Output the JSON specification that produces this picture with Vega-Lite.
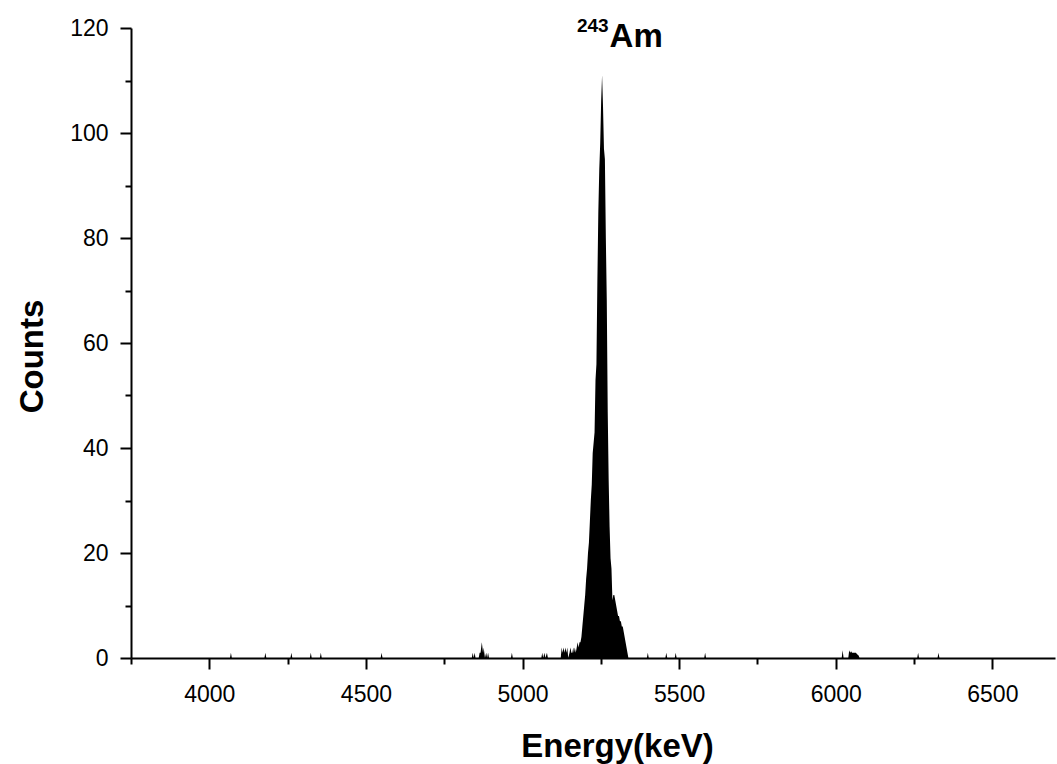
{
  "$schema": "https://vega.github.io/schema/vega-lite/v6.json",
  "width": 924,
  "height": 630,
  "autosize": {"type": "none"},
  "padding": {"left": 131, "top": 28, "right": 2, "bottom": 106},
  "background": "white",
  "config": {
    "view": {"stroke": null},
    "font": "Liberation Sans",
    "axis": {
      "domainColor": "black", "domainWidth": 2, "tickColor": "black", "tickWidth": 2,
      "labelColor": "black", "titleColor": "black", "labelFont": "Liberation Sans",
      "titleFont": "Liberation Sans", "labelFontSize": 23, "titleFontSize": 33,
      "titleFontWeight": "bold", "grid": false, "zindex": 1
    }
  },
  "datasets": {
    "spectrum": [
      {"energy": 3750, "counts": 0},
      {"energy": 4066, "counts": 0}, {"energy": 4069, "counts": 1}, {"energy": 4072, "counts": 0},
      {"energy": 4176, "counts": 0}, {"energy": 4179, "counts": 1}, {"energy": 4182, "counts": 0},
      {"energy": 4259, "counts": 0}, {"energy": 4262, "counts": 1}, {"energy": 4265, "counts": 0},
      {"energy": 4321, "counts": 0}, {"energy": 4324, "counts": 1}, {"energy": 4327, "counts": 0},
      {"energy": 4353, "counts": 0}, {"energy": 4356, "counts": 1}, {"energy": 4359, "counts": 0},
      {"energy": 4547, "counts": 0}, {"energy": 4550, "counts": 1}, {"energy": 4553, "counts": 0},
      {"energy": 4838, "counts": 0}, {"energy": 4841, "counts": 1}, {"energy": 4844, "counts": 0},
      {"energy": 4847, "counts": 1}, {"energy": 4850, "counts": 0}, {"energy": 4860, "counts": 0},
      {"energy": 4863, "counts": 1}, {"energy": 4866, "counts": 1}, {"energy": 4868, "counts": 2},
      {"energy": 4870, "counts": 3}, {"energy": 4872, "counts": 2}, {"energy": 4874, "counts": 1},
      {"energy": 4876, "counts": 2}, {"energy": 4878, "counts": 1}, {"energy": 4880, "counts": 0},
      {"energy": 4884, "counts": 1}, {"energy": 4887, "counts": 0}, {"energy": 4890, "counts": 1},
      {"energy": 4893, "counts": 0},
      {"energy": 4963, "counts": 0}, {"energy": 4966, "counts": 1}, {"energy": 4969, "counts": 0},
      {"energy": 5060, "counts": 0}, {"energy": 5063, "counts": 1}, {"energy": 5066, "counts": 0},
      {"energy": 5070, "counts": 1}, {"energy": 5073, "counts": 0}, {"energy": 5078, "counts": 1},
      {"energy": 5081, "counts": 0},
      {"energy": 5122, "counts": 0}, {"energy": 5125, "counts": 2}, {"energy": 5128, "counts": 1},
      {"energy": 5131, "counts": 2}, {"energy": 5134, "counts": 1}, {"energy": 5137, "counts": 2},
      {"energy": 5140, "counts": 1}, {"energy": 5143, "counts": 2}, {"energy": 5146, "counts": 0},
      {"energy": 5150, "counts": 1}, {"energy": 5153, "counts": 2}, {"energy": 5156, "counts": 1},
      {"energy": 5159, "counts": 1}, {"energy": 5162, "counts": 2},
      {"energy": 5164, "counts": 1}, {"energy": 5167, "counts": 2}, {"energy": 5170, "counts": 1},
      {"energy": 5173, "counts": 2}, {"energy": 5176, "counts": 3}, {"energy": 5179, "counts": 2},
      {"energy": 5182, "counts": 3}, {"energy": 5185, "counts": 3}, {"energy": 5188, "counts": 4},
      {"energy": 5191, "counts": 6}, {"energy": 5194, "counts": 8}, {"energy": 5197, "counts": 10},
      {"energy": 5200, "counts": 12}, {"energy": 5203, "counts": 15}, {"energy": 5206, "counts": 17},
      {"energy": 5209, "counts": 20}, {"energy": 5212, "counts": 22}, {"energy": 5215, "counts": 26},
      {"energy": 5218, "counts": 30}, {"energy": 5221, "counts": 33}, {"energy": 5224, "counts": 39},
      {"energy": 5227, "counts": 41}, {"energy": 5230, "counts": 43}, {"energy": 5233, "counts": 53},
      {"energy": 5236, "counts": 56}, {"energy": 5239, "counts": 72}, {"energy": 5242, "counts": 85},
      {"energy": 5245, "counts": 93}, {"energy": 5248, "counts": 98}, {"energy": 5251, "counts": 106},
      {"energy": 5254, "counts": 111}, {"energy": 5257, "counts": 105}, {"energy": 5260, "counts": 97},
      {"energy": 5263, "counts": 95}, {"energy": 5266, "counts": 80}, {"energy": 5269, "counts": 68},
      {"energy": 5272, "counts": 47}, {"energy": 5275, "counts": 34}, {"energy": 5278, "counts": 25},
      {"energy": 5281, "counts": 19}, {"energy": 5284, "counts": 17}, {"energy": 5287, "counts": 11},
      {"energy": 5290, "counts": 12}, {"energy": 5293, "counts": 12}, {"energy": 5296, "counts": 11},
      {"energy": 5299, "counts": 10}, {"energy": 5302, "counts": 9}, {"energy": 5305, "counts": 8},
      {"energy": 5308, "counts": 8}, {"energy": 5311, "counts": 7}, {"energy": 5314, "counts": 7},
      {"energy": 5317, "counts": 6}, {"energy": 5320, "counts": 6}, {"energy": 5323, "counts": 5},
      {"energy": 5326, "counts": 4}, {"energy": 5329, "counts": 3}, {"energy": 5332, "counts": 2},
      {"energy": 5335, "counts": 1}, {"energy": 5338, "counts": 0},
      {"energy": 5397, "counts": 0}, {"energy": 5400, "counts": 1}, {"energy": 5403, "counts": 0},
      {"energy": 5456, "counts": 0}, {"energy": 5459, "counts": 1}, {"energy": 5462, "counts": 0},
      {"energy": 5486, "counts": 0}, {"energy": 5489, "counts": 1}, {"energy": 5492, "counts": 0},
      {"energy": 5580, "counts": 0}, {"energy": 5583, "counts": 1}, {"energy": 5586, "counts": 0},
      {"energy": 6019, "counts": 0}, {"energy": 6022, "counts": 1.5}, {"energy": 6025, "counts": 0},
      {"energy": 6040, "counts": 0}, {"energy": 6043, "counts": 1.5}, {"energy": 6046, "counts": 1},
      {"energy": 6049, "counts": 1.3}, {"energy": 6052, "counts": 1}, {"energy": 6055, "counts": 1},
      {"energy": 6058, "counts": 1}, {"energy": 6061, "counts": 1}, {"energy": 6064, "counts": 1},
      {"energy": 6067, "counts": 0.8}, {"energy": 6070, "counts": 0.6}, {"energy": 6073, "counts": 0.5},
      {"energy": 6076, "counts": 0},
      {"energy": 6260, "counts": 0}, {"energy": 6263, "counts": 1}, {"energy": 6266, "counts": 0},
      {"energy": 6325, "counts": 0}, {"energy": 6328, "counts": 1}, {"energy": 6331, "counts": 0},
      {"energy": 6700, "counts": 0}
    ]
  },
  "layer": [
    {
      "data": {"name": "spectrum"},
      "mark": {"type": "area", "interpolate": "linear", "color": "black"},
      "encoding": {
        "x": {
          "field": "energy", "type": "quantitative",
          "scale": {"domain": [3750, 6700], "nice": false, "zero": false},
          "axis": {
            "title": "Energy(keV)",
            "values": [3750, 4000, 4250, 4500, 4750, 5000, 5250, 5500, 5750, 6000, 6250, 6500],
            "labelExpr": "datum.value % 500 === 0 ? datum.label : ''",
            "format": "d",
            "tickSize": {"condition": {"test": "datum.value % 500 === 0", "value": 11}, "value": 6},
            "labelPadding": 14,
            "labelFlush": false,
            "labelOverlap": false,
            "titlePadding": 24,
            "titleX": 486
          }
        },
        "y": {
          "field": "counts", "type": "quantitative",
          "scale": {"domain": [0, 120], "nice": false},
          "axis": {
            "title": "Counts",
            "values": [0, 10, 20, 30, 40, 50, 60, 70, 80, 90, 100, 110, 120],
            "labelExpr": "datum.value % 20 === 0 ? datum.label : ''",
            "tickSize": {"condition": {"test": "datum.value % 20 === 0", "value": 11}, "value": 6},
            "labelPadding": 12,
            "labelFlush": false,
            "labelOverlap": false,
            "titlePadding": 20,
            "titleY": 328
          }
        }
      }
    },
    {
      "data": {"values": [{"label": "Am"}]},
      "mark": {"type": "text", "fontSize": 33, "fontWeight": "bold", "align": "left", "baseline": "alphabetic", "color": "black"},
      "encoding": {"text": {"field": "label"}, "x": {"datum": 5278, "type": "quantitative"}, "y": {"datum": 116.4, "type": "quantitative"}}
    },
    {
      "data": {"values": [{"label": "243"}]},
      "mark": {"type": "text", "fontSize": 19, "fontWeight": "bold", "align": "right", "baseline": "alphabetic", "color": "black"},
      "encoding": {"text": {"field": "label"}, "x": {"datum": 5275, "type": "quantitative"}, "y": {"datum": 119.3, "type": "quantitative"}}
    }
  ]
}
